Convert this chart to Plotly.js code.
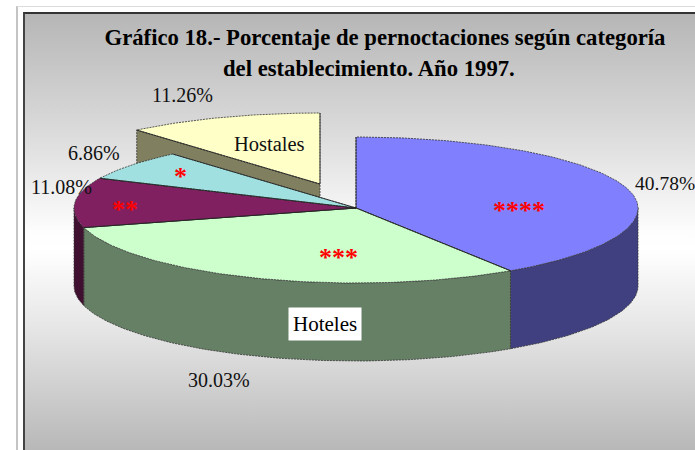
<!DOCTYPE html>
<html>
<head>
<meta charset="utf-8">
<script src="https://cdn.plot.ly/plotly-3.0.1.min.js"></script>
<style>
html,body{margin:0;padding:0;background:#fff;width:695px;height:450px;overflow:hidden}
#outer{position:absolute;left:16px;top:6px;width:679px;height:444px;border-left:2px solid #c4c4c4;border-top:1px solid #dcdcdc;box-sizing:border-box}
#frame{position:absolute;left:23px;top:12px;width:672px;height:438px;box-sizing:border-box;border-left:2px solid #444;border-top:2px solid #333;
background:linear-gradient(to bottom,#b6b6b6 0%,#d8d8d8 25%,#fdfdfd 50%,#ffffff 54%,#e6e6e6 72%,#b8b8b8 100%)}
#chart{position:absolute;left:0;top:0;width:695px;height:450px}
</style>
</head>
<body>
<div id="outer"></div>
<div id="frame"></div>
<div id="chart"></div>
<script>
const categories = ['****', '***', '**', '*', 'Hostales'];
const values = [40.78, 30.03, 11.08, 6.86, 11.26];
const percentLabels = ['40.78%', '30.03%', '11.08%', '6.86%', '11.26%'];
const topColors = ['#8080ff', '#ccffcc', '#802060', '#a0e0e0', '#ffffc8'];
const sideColors = ['#404080', '#668066', '#401030', '#508080', '#808060'];

const cx = 356, cy = 208, rx = 282, ryBack = 71, ryFront = 75, depth = 78;
const explode = [0, 0, 0, 0, 1];
const explodeDx = -36, explodeDy = -24;
const edge = '#333333';
const dashed = '2px,1px';

function pt(deg, ox, oy, dz) {
  const a = deg * Math.PI / 180, c = Math.cos(a);
  return [cx + ox + rx * Math.sin(a), cy + oy - (c > 0 ? ryBack : ryFront) * c + dz];
}
function arc(a0, a1, ox, oy, dz) {
  const n = Math.max(2, Math.ceil(Math.abs(a1 - a0)));
  const out = [];
  for (let i = 0; i <= n; i++) out.push(pt(a0 + (a1 - a0) * i / n, ox, oy, dz));
  return out;
}
function poly(points, fill, name, dash) {
  return {
    type: 'scatter', mode: 'lines', name: name, hoverinfo: 'skip',
    x: points.map(p => p[0]), y: points.map(p => p[1]),
    fill: 'toself', fillcolor: fill,
    line: {color: edge, width: 0.8, dash: dash || 'solid'}
  };
}
function spokes(points, name) {
  return {
    type: 'scatter', mode: 'lines', name: name, hoverinfo: 'skip',
    x: points.map(p => p[0]), y: points.map(p => p[1]),
    line: {color: '#222222', width: 0.8}
  };
}

const total = values.reduce((s, v) => s + v, 0);
const spans = [];
let acc = 0;
values.forEach(v => { spans.push([acc / total * 360, (acc + v) / total * 360]); acc += v; });

const back = [], walls = [], tops = [];
spans.forEach((s, i) => {
  const ox = explode[i] * explodeDx, oy = explode[i] * explodeDy;
  const centre = [cx + ox, cy + oy];
  const rim = arc(s[0], s[1], ox, oy, 0);
  const top = [centre].concat(rim, [centre]);
  const radial = [rim[0], centre, rim[rim.length - 1]];
  if (explode[i]) {
    // Inner cut face of the pulled-out slice, hidden in part by the rest of the pie
    const c = pt(s[0], ox, oy, 0), c2 = pt(s[0], ox, oy, depth);
    back.push(poly([c, centre, [centre[0], centre[1] + depth], c2, c], sideColors[i], categories[i] + ' cara', dashed));
    back.push(poly(top, topColors[i], categories[i], dashed));
    back.push(spokes(radial, categories[i] + ' radios'));
  } else {
    const a0 = Math.max(s[0], 90), a1 = Math.min(s[1], 270);
    if (a1 > a0) {
      const up = arc(a0, a1, ox, oy, 0), down = arc(a1, a0, ox, oy, depth);
      walls.push(poly(up.concat(down, [up[0]]), sideColors[i], categories[i] + ' lado', dashed));
    }
    tops.push(poly(top, topColors[i], categories[i], dashed));
    tops.push(spokes(radial, categories[i] + ' radios'));
  }
});

const serif = '"Liberation Serif", "Times New Roman", serif';
function label(text, x, y, size, color, extra) {
  return Object.assign({
    text: text, x: x, y: y, xref: 'x', yref: 'y', showarrow: false,
    xanchor: 'center', yanchor: 'middle',
    font: {family: serif, size: size, color: color}
  }, extra || {});
}
const annotations = [
  label('<b>del establecimiento. Año 1997.</b>', 368.5, 68, 22.7, '#000'),
  label(percentLabels[0], 664.5, 183, 19.5, '#111'),
  label(percentLabels[1], 219, 380, 20, '#111'),
  label(percentLabels[2], 61, 187, 20, '#111'),
  label(percentLabels[3], 94, 153, 20, '#111'),
  label(percentLabels[4], 182, 95, 20, '#111'),
  label('Hostales', 269, 144, 20.5, '#111'),
  label('Hoteles', 325, 323.5, 21, '#000', {bgcolor: '#ffffff', borderpad: 4}),
  label('<b>' + categories[0] + '</b>', 519, 210, 26, '#ff0000'),
  label('<b>' + categories[1] + '</b>', 338, 257, 26, '#ff0000'),
  label('<b>' + categories[2] + '</b>', 125, 209, 26, '#ff0000'),
  label('<b>' + categories[3] + '</b>', 180, 176, 26, '#ff0000')
];

const layout = {
  width: 695, height: 450,
  margin: {l: 0, r: 0, t: 0, b: 0},
  paper_bgcolor: 'rgba(0,0,0,0)', plot_bgcolor: 'rgba(0,0,0,0)',
  showlegend: false,
  title: {
    text: '<b>Gráfico 18.- Porcentaje de pernoctaciones según categoría</b>',
    x: 385 / 695, xanchor: 'center', xref: 'paper',
    y: 1 - 37 / 450, yanchor: 'middle', yref: 'container',
    font: {family: serif, size: 22.7, color: '#000'}
  },
  xaxis: {range: [0, 695], visible: false, fixedrange: true},
  yaxis: {range: [450, 0], visible: false, fixedrange: true},
  annotations: annotations
};
Plotly.newPlot('chart', back.concat(walls, tops), layout, {displayModeBar: false, staticPlot: true});
</script>
</body>
</html>
